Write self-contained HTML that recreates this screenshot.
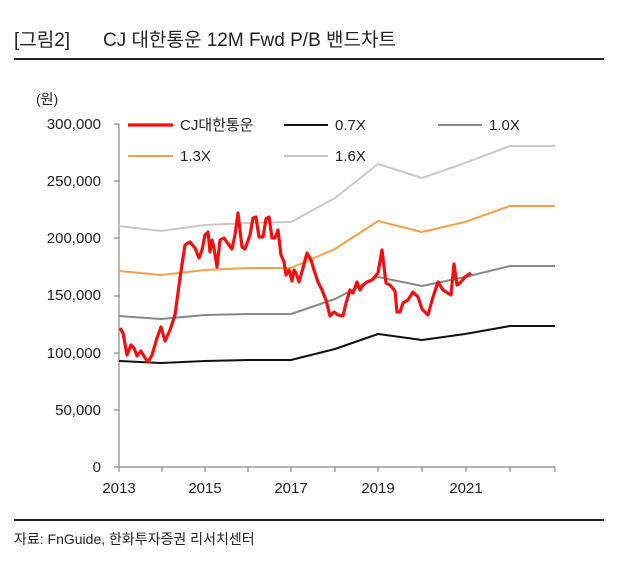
<!DOCTYPE html><html><head><meta charset="utf-8"><style>
body{margin:0;background:#fff;width:636px;height:575px;overflow:hidden;font-family:"Liberation Sans","Noto Sans CJK KR",sans-serif}
</style></head><body>
<svg width="636" height="575" xmlns="http://www.w3.org/2000/svg" font-family="Liberation Sans, Noto Sans CJK KR, sans-serif">
<text x="14" y="46" font-size="19" fill="#222">[그림2]</text>
<text x="103" y="46" font-size="19" fill="#222">CJ 대한통운 12M Fwd P/B 밴드차트</text>
<rect x="14" y="58" width="590" height="2" fill="#222"/>
<rect x="14" y="519" width="590" height="2" fill="#222"/>
<text x="14" y="544" font-size="14" fill="#222">자료: FnGuide, 한화투자증권 리서치센터</text>
<text x="36" y="104" font-size="14" fill="#222">(원)</text>
<g font-size="15" fill="#222" text-anchor="end">
<text x="101" y="129">300,000</text><text x="101" y="186">250,000</text><text x="101" y="243">200,000</text>
<text x="101" y="300">150,000</text><text x="101" y="358">100,000</text><text x="101" y="415">50,000</text><text x="101" y="472">0</text>
</g>
<g font-size="15" fill="#222" text-anchor="middle">
<text x="119" y="493">2013</text><text x="205" y="493">2015</text><text x="291" y="493">2017</text><text x="378" y="493">2019</text><text x="466" y="493">2021</text>
</g>
<g stroke="#888" stroke-width="1.2">
<line x1="119" y1="124" x2="119" y2="467"/><line x1="119" y1="467" x2="555" y2="467"/>
<line x1="114" y1="124" x2="119" y2="124"/><line x1="114" y1="181" x2="119" y2="181"/><line x1="114" y1="238" x2="119" y2="238"/><line x1="114" y1="296" x2="119" y2="296"/><line x1="114" y1="353" x2="119" y2="353"/><line x1="114" y1="410" x2="119" y2="410"/><line x1="114" y1="467" x2="119" y2="467"/>
<line x1="119" y1="467" x2="119" y2="472"/><line x1="162" y1="467" x2="162" y2="472"/><line x1="205" y1="467" x2="205" y2="472"/><line x1="248" y1="467" x2="248" y2="472"/><line x1="291" y1="467" x2="291" y2="472"/><line x1="335" y1="467" x2="335" y2="472"/><line x1="378" y1="467" x2="378" y2="472"/><line x1="422" y1="467" x2="422" y2="472"/><line x1="466" y1="467" x2="466" y2="472"/><line x1="510" y1="467" x2="510" y2="472"/><line x1="555" y1="467" x2="555" y2="472"/>
</g>
<g fill="none" stroke-width="2" stroke-linejoin="round">
<polyline stroke="#c8c8c8" points="119,226 161,231 205,225 248,223 291,222 335,198 378,164 422,178 465,163 510,146 555,146"/>
<polyline stroke="#f7a04a" points="119,271 161,275 205,270 248,268 291,268 335,249 378,221 422,232 465,222 510,206 555,206"/>
<polyline stroke="#888" points="119,316 161,319 205,315 248,314 291,314 335,299 378,277 422,286 465,277 510,266 555,266"/>
<polyline stroke="#111" points="119,361 161,363 205,361 248,360 291,360 335,349 378,334 422,340 465,334 510,326 555,326"/>
<polyline stroke="#f01010" stroke-width="3.2" points="120,328 123,333 127,355 131,345 134,348 137,356 141,351 145,358 148,362 152,355 157,338 161,327 165,341 170,330 175,315 180,278 185,245 190,242 195,248 199,258 202,250 205,235 208,232 210,252 212,240 214,248 217,267 220,240 224,238 229,245 232,249 235,235 238,213 242,247 245,249 250,235 253,218 256,217 259,237 263,237 266,219 269,217 272,238 275,238 278,230 281,255 284,262 286,275 289,270 292,281 294,270 296,273 299,282 303,268 307,253 311,260 314,270 318,282 322,290 326,300 330,316 334,312 338,315 343,316 346,303 350,290 353,293 357,282 360,290 363,285 367,282 372,280 378,273 382,250 386,283 390,285 395,291 397,312 400,312 403,303 408,300 413,292 418,297 422,309 428,315 433,297 438,282 443,290 451,295 454,264 457,285 460,283 465,277 471,273"/>
</g>
<g font-size="15" fill="#222">
<line x1="128" y1="125" x2="173" y2="125" stroke="#f01010" stroke-width="3.2"/><text x="180" y="130">CJ대한통운</text>
<line x1="284" y1="125" x2="328" y2="125" stroke="#111" stroke-width="2"/><text x="335" y="130">0.7X</text>
<line x1="438" y1="125" x2="482" y2="125" stroke="#888" stroke-width="2"/><text x="489" y="130">1.0X</text>
<line x1="128" y1="156" x2="173" y2="156" stroke="#f7a04a" stroke-width="2"/><text x="180" y="161">1.3X</text>
<line x1="284" y1="156" x2="328" y2="156" stroke="#c8c8c8" stroke-width="2"/><text x="335" y="161">1.6X</text>
</g>
</svg></body></html>
